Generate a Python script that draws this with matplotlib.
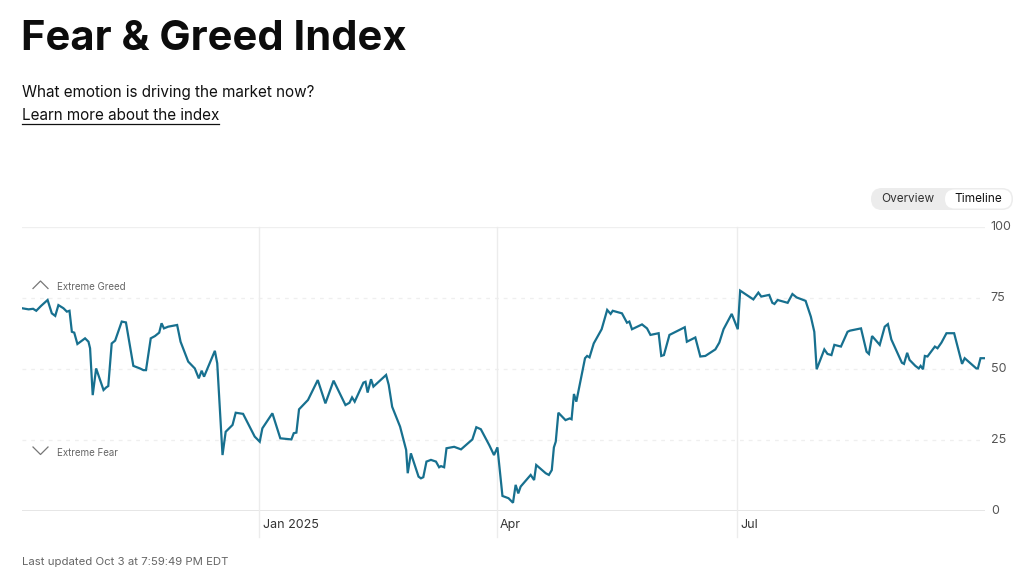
import datetime as dt

import matplotlib

matplotlib.use("Agg")
import matplotlib.dates as mdates  # noqa: E402
import matplotlib.pyplot as plt  # noqa: E402
from matplotlib.lines import Line2D  # noqa: E402
from matplotlib.patches import FancyBboxPatch  # noqa: E402

W, H = 1024, 579

START = dt.date(2024, 10, 3)
days = [
    0, 2.5, 4.2, 5.4, 7.2, 9.7, 11.3, 12.6, 13.8, 15.7, 17.0, 18.0, 18.9, 19.8,
    21.0, 23.9, 25.2, 25.8, 26.8, 28.1, 30.9, 31.9, 32.7, 34.0, 35.3, 37.8,
    39.4, 42.2, 44.7, 46.0, 47.0, 48.8, 50.4, 52.0, 52.9, 53.8, 55.4, 58.8,
    60.1, 63.0, 65.5, 67.0, 68.1, 69.0, 73.1, 74.0, 76.0, 77.2, 79.8, 81.0,
    83.8, 88.2, 90.1, 91.1, 94.9, 97.9, 102.1, 103.0, 104.0, 105.0, 108.4,
    112.1, 115.0, 118.1, 122.6, 124.1, 125.1, 126.1, 129.4, 130.2, 131.0,
    132.3, 133.2, 138.0, 139.0, 140.3, 143.3, 145.6, 146.2, 147.4, 150.3,
    151.2, 152.1, 153.3, 155.0, 156.9, 158.1, 158.8, 160.0, 160.9, 163.8,
    166.4, 170.7, 172.2, 173.9, 177.1, 178.9, 180.2, 182.1, 184.4, 186.1,
    187.1, 188.1, 189.0, 192.8, 194.1, 194.9, 198.5, 199.7, 200.8, 201.6,
    202.3, 203.3, 206.0, 207.6, 208.3, 209.2, 210.1, 213.4, 214.2, 215.1,
    216.7, 219.7, 221.8, 223.1, 223.9, 227.4, 229.3, 230.2, 231.2, 235.0,
    236.9, 238.2, 241.3, 242.3, 243.3, 245.4, 251.2, 252.0, 255.2, 257.1,
    259.0, 262.8, 264.3, 265.9, 269.0, 271.3, 272.2, 277.2, 279.1, 280.2,
    283.2, 284.4, 285.2, 286.4, 290.2, 292.0, 293.6, 297.0, 299.0, 300.3,
    301.2, 304.1, 305.3, 306.8, 307.9, 310.4, 312.9, 313.8, 318.0, 320.1,
    321.0, 322.2, 325.1, 327.0, 328.2, 329.5, 333.5, 334.3, 335.5, 336.4,
    338.6, 339.9, 340.6, 341.5, 342.2, 343.2, 346.0, 347.0, 348.5, 350.4,
    353.3, 356.3, 357.3, 361.7, 362.3, 363.3, 365.0,
]
values = [
    71.4, 71.0, 71.2, 70.5, 72.2, 74.3, 69.6, 68.7, 72.5, 71.4, 70.2, 70.5,
    63.1, 62.8, 58.8, 60.8, 59.6, 57.3, 40.8, 50.2, 42.6, 43.5, 44.0, 59.0,
    60.0, 66.7, 66.4, 51.1, 50.2, 49.6, 49.6, 60.8, 61.6, 62.8, 66.1, 64.3,
    64.9, 65.5, 59.6, 52.6, 50.2, 46.7, 49.4, 47.3, 56.4, 52.0, 19.7, 27.9,
    30.3, 34.6, 34.2, 26.2, 24.4, 29.1, 34.4, 25.6, 25.2, 27.4, 27.6, 35.8,
    39.1, 46.1, 37.9, 45.9, 37.3, 38.1, 40.0, 38.5, 45.2, 45.5, 41.7, 46.4,
    43.8, 47.9, 44.4, 36.7, 29.7, 21.5, 13.3, 20.3, 12.1, 11.5, 11.9, 17.4,
    18.0, 17.4, 15.4, 15.8, 15.4, 22.1, 22.6, 21.7, 25.2, 29.5, 28.8, 23.2,
    19.7, 22.4, 5.3, 4.5, 2.9, 9.2, 6.2, 8.6, 12.7, 10.9, 16.2, 13.3, 12.7,
    14.4, 22.4, 24.4, 34.6, 32.0, 32.6, 32.3, 41.2, 38.5, 53.8, 54.6, 54.1,
    59.0, 64.0, 70.8, 69.4, 70.5, 69.6, 66.3, 66.7, 64.0, 65.7, 64.3, 62.0,
    62.6, 54.6, 54.9, 62.0, 64.7, 59.6, 61.1, 54.4, 54.6, 56.9, 59.3, 64.0,
    69.4, 64.0, 77.6, 74.5, 76.9, 75.5, 76.1, 73.3, 72.9, 74.3, 73.3, 76.4,
    75.2, 74.0, 68.4, 63.1, 49.9, 56.9, 55.3, 54.9, 58.5, 57.9, 63.1, 63.5,
    64.3, 56.1, 55.3, 61.6, 58.5, 64.9, 65.8, 60.4, 52.2, 51.8, 55.7, 53.2,
    51.1, 50.2, 51.1, 49.9, 54.6, 54.4, 57.9, 57.3, 59.3, 62.6, 62.6, 51.8,
    53.8, 50.2, 50.2, 53.8, 53.8,
]

y_ticks = [0, 25, 50, 75, 100]
month_ticks = [dt.date(2025, 1, 1), dt.date(2025, 4, 1), dt.date(2025, 7, 1)]
month_labels = ["Jan 2025", "Apr", "Jul"]

TITLE = "Fear & Greed Index"
SUBTITLE = "What emotion is driving the market now?"
LINK = "Learn more about the index"
FOOTER = "Last updated Oct 3 at 7:59:49 PM EDT"

LINE_COLOR = "#17708f"
GRID = "#ececec"


def fx(px):
    return px / W


def fy(py):
    return 1 - py / H


plt.rcParams["font.family"] = ["Inter", "DejaVu Sans"]

dates = [dt.datetime.combine(START, dt.time()) + dt.timedelta(days=d) for d in days]

fig = plt.figure(figsize=(W / 100, H / 100), dpi=100)
ax = fig.add_axes([fx(22), fy(511), fx(985) - fx(22), fy(227) - fy(511)])

ax.plot(dates, values, color=LINE_COLOR, linewidth=1.6, solid_joinstyle="miter", zorder=3)
ax.set_xlim(dates[0], dates[-1])
ax.set_ylim(0, 100)

for s in ax.spines.values():
    s.set_visible(False)
ax.set_yticks([])
ax.set_xticks([])

# horizontal guides
ax.axhline(0, color="#e2e2e2", linewidth=1.2, zorder=1)
ax.axhline(100, color="#efefef", linewidth=0.9, zorder=1)
for v in (25, 50, 75):
    ax.axhline(v, color="#efefef", linewidth=0.9, linestyle=(0, (3, 4)), zorder=1)

# month separators run down past the baseline
for d, lab in zip(month_ticks, month_labels):
    ax.axvline(d, ymin=-0.09, ymax=1, color=GRID, linewidth=1.0, clip_on=False, zorder=1)
    ax.text(mdates.date2num(d) + 1.2, -4.8, lab, ha="left", va="center",
            fontsize=9, color="#333333")

for v in y_ticks:
    ax.text(1.006, v / 100, str(v), transform=ax.transAxes, ha="left", va="center",
            fontsize=9, color="#555555")

# extreme zone markers
fig.add_artist(Line2D([fx(33), fx(40.5), fx(48)], [fy(288.5), fy(281), fy(288.5)],
                      color="#777777", linewidth=0.9))
fig.text(fx(57), fy(287), "Extreme Greed", fontsize=7, color="#666666", va="center")
fig.add_artist(Line2D([fx(33), fx(40.5), fx(48)], [fy(447), fy(454.5), fy(447)],
                      color="#777777", linewidth=0.9))
fig.text(fx(57), fy(453), "Extreme Fear", fontsize=7, color="#666666", va="center")

# header
fig.text(fx(21), fy(38.5), TITLE, fontsize=30, fontweight="bold", color="#0c0c0c", va="center")
fig.text(fx(22), fy(93), SUBTITLE, fontsize=11, color="#111111", va="center")
link = fig.text(fx(22), fy(115), LINK, fontsize=11, color="#111111", va="center")

# overview / timeline toggle, drawn in a pixel-scaled inset
tog = fig.add_axes([fx(870), fy(211), fx(1014) - fx(870), fy(187) - fy(211)])
tog.set_xlim(870, 1014)
tog.set_ylim(211, 187)
tog.axis("off")
tog.add_patch(FancyBboxPatch((871, 188), 142, 22, boxstyle="round,pad=0,rounding_size=11",
                             facecolor="#ececec", edgecolor="none"))
tog.add_patch(FancyBboxPatch((945, 189.5), 66.5, 19, boxstyle="round,pad=0,rounding_size=9.5",
                             facecolor="white", edgecolor="none"))
tog.text(908, 199, "Overview", fontsize=8.5, color="#333333", ha="center", va="center")
tog.text(978.5, 199, "Timeline", fontsize=8.5, color="#111111", ha="center", va="center")

fig.text(fx(22), fy(562), FOOTER, fontsize=8.2, color="#666666", va="center")

# underline the link text
fig.canvas.draw()
bb = link.get_window_extent().transformed(fig.transFigure.inverted())
fig.add_artist(Line2D([bb.x0, bb.x1], [bb.y0 - 0.002, bb.y0 - 0.002],
                      color="#111111", linewidth=0.9))

fig.savefig("out.png", dpi=100)
